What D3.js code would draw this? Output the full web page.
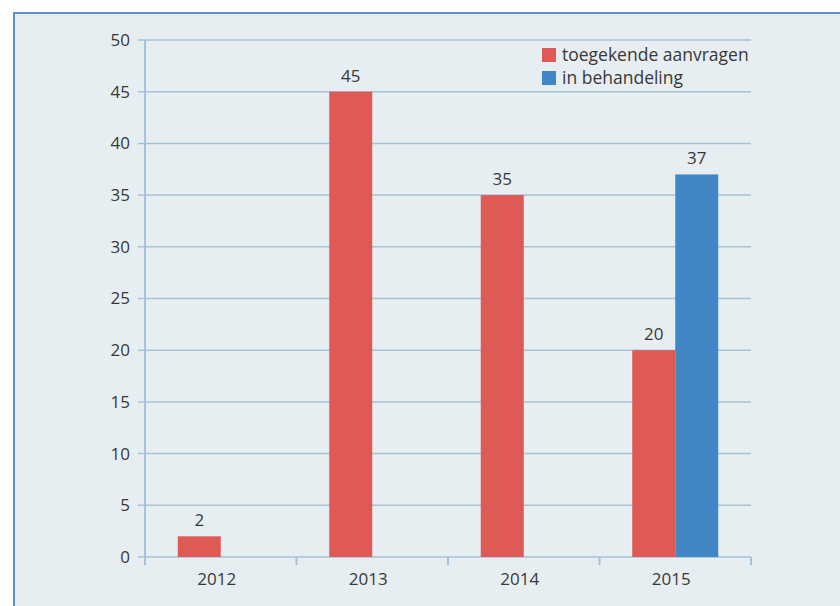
<!DOCTYPE html>
<html>
<head>
<meta charset="utf-8">
<script src="https://cdn.jsdelivr.net/npm/d3@7"></script>
<style>
  body { margin: 0; background: #fff; }
  svg text { font-family: "Open Sans", sans-serif; fill: #383838; }
</style>
</head>
<body>
<div id="chart"></div>
<script>
// chart data
const years = ["2012", "2013", "2014", "2015"];
const series = ["toegekende aanvragen", "in behandeling"];
const granted = [2, 45, 35, 20];
const pending = [null, null, null, 37];
const yTicks = [0, 5, 10, 15, 20, 25, 30, 35, 40, 45, 50];

const colors = ["#e05a55", "#4187c6"];

const width = 840;
const height = 606;
const margin = { top: 40, right: 89, bottom: 49, left: 145 };

const svg = d3.select("#chart")
    .append("svg")
    .attr("width", width)
    .attr("height", height);

//panel background with border on top and left
svg.append("rect")
    .attr("x", 14)
    .attr("y", 13)
    .attr("width", width)
    .attr("height", height)
    .attr("fill", "#e7eef2")
    .attr("stroke", "#5b90c8")
    .attr("stroke-width", 2);

//scales
const x0 = d3.scaleBand()
    .domain(years)
    .range([margin.left, width - margin.right]);

const x1 = d3.scaleBand()
    .domain(series)
    .range([x0.bandwidth() / 2 - 43, x0.bandwidth() / 2 + 43]);

const y = d3.scaleLinear()
    .domain([0, 50])
    .range([height - margin.bottom, margin.top]);

//gridlines
svg.append("g")
    .selectAll("line")
    .data(yTicks)
    .enter()
    .append("line")
    .attr("x1", margin.left - 7)
    .attr("x2", width - margin.right)
    .attr("y1", function(d) { return y(d); })
    .attr("y2", function(d) { return y(d); })
    .attr("stroke", "#a7c2d6")
    .attr("stroke-width", 1.5);

//y axis line
svg.append("line")
    .attr("x1", margin.left)
    .attr("x2", margin.left)
    .attr("y1", y(50))
    .attr("y2", y(0) + 8)
    .attr("stroke", "#a7c2d6")
    .attr("stroke-width", 2);

//x ticks at band boundaries
const boundaries = years.map(function(d) { return x0(d); }).concat([width - margin.right]);
svg.append("g")
    .selectAll("line")
    .data(boundaries.slice(1))
    .enter()
    .append("line")
    .attr("x1", function(d) { return d; })
    .attr("x2", function(d) { return d; })
    .attr("y1", y(0))
    .attr("y2", y(0) + 8)
    .attr("stroke", "#a7c2d6")
    .attr("stroke-width", 2);

//y tick labels
svg.append("g")
    .selectAll("text")
    .data(yTicks)
    .enter()
    .append("text")
    .attr("x", margin.left - 15)
    .attr("y", function(d) { return y(d); })
    .attr("dy", "0.35em")
    .attr("text-anchor", "end")
    .style("font-size", "17px")
    .text(function(d) { return d; });

//x tick labels
svg.append("g")
    .selectAll("text")
    .data(years)
    .enter()
    .append("text")
    .attr("x", function(d) { return x0(d) + x0.bandwidth() / 2 - 4; })
    .attr("y", y(0) + 28)
    .attr("text-anchor", "middle")
    .style("font-size", "17px")
    .text(function(d) { return d; });

//build rows for bars
const rows = [];
years.forEach(function(yr, i) {
    if (granted[i] != null) rows.push({ year: yr, key: series[0], value: granted[i], c: 0 });
    if (pending[i] != null) rows.push({ year: yr, key: series[1], value: pending[i], c: 1 });
});

//bars
svg.append("g")
    .selectAll("rect")
    .data(rows)
    .enter()
    .append("rect")
    .attr("x", function(d) { return x0(d.year) + x1(d.key); })
    .attr("y", function(d) { return y(d.value); })
    .attr("width", x1.bandwidth())
    .attr("height", function(d) { return y(0) - y(d.value); })
    .attr("fill", function(d) { return colors[d.c]; });

//value labels
svg.append("g")
    .selectAll("text")
    .data(rows)
    .enter()
    .append("text")
    .attr("x", function(d) { return x0(d.year) + x1(d.key) + x1.bandwidth() / 2; })
    .attr("y", function(d) { return y(d.value) - 10; })
    .attr("text-anchor", "middle")
    .style("font-size", "17px")
    .text(function(d) { return d.value; });

//legend
const legend = svg.append("g")
    .attr("transform", "translate(542,48)");

legend.selectAll("rect")
    .data(series)
    .enter()
    .append("rect")
    .attr("x", 0)
    .attr("y", function(d, i) { return i * 23; })
    .attr("width", 14)
    .attr("height", 14)
    .attr("fill", function(d, i) { return colors[i]; });

legend.selectAll("text")
    .data(series)
    .enter()
    .append("text")
    .attr("x", 20)
    .attr("y", function(d, i) { return i * 23 + 7; })
    .attr("dy", "0.35em")
    .style("font-size", "17.5px")
    .text(function(d) { return d; });
</script>
</body>
</html>
